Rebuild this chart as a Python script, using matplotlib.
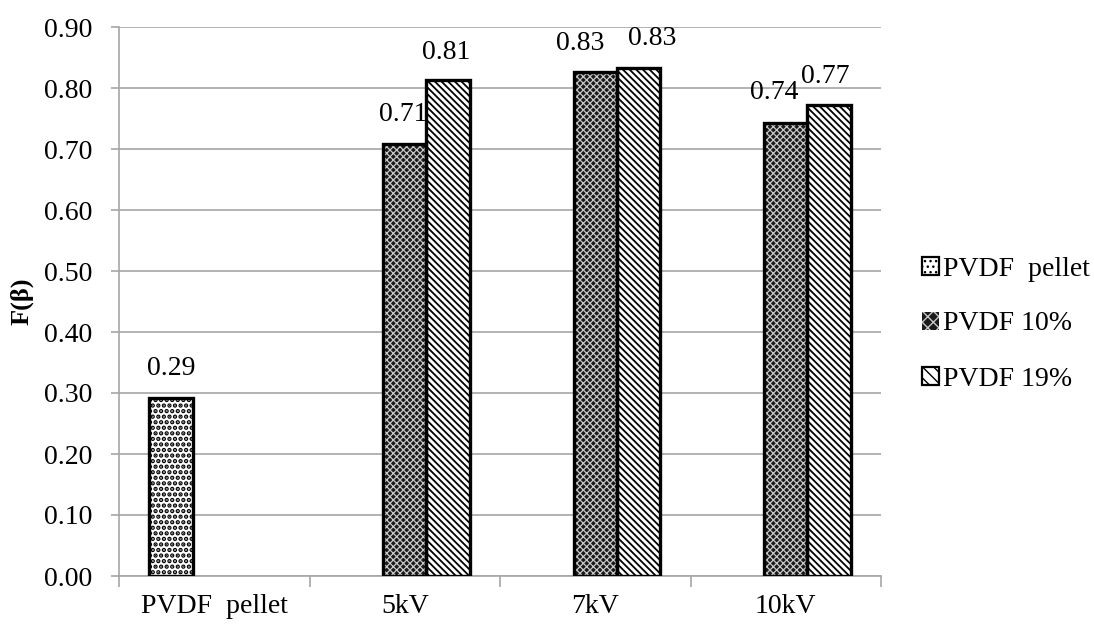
import matplotlib
matplotlib.use("Agg")
import matplotlib.pyplot as plt
from matplotlib.patches import Patch
import numpy as np

plt.rcParams['font.family'] = ['Liberation Serif', 'DejaVu Serif']
plt.rcParams['hatch.linewidth'] = 1.0

categories = ["PVDF  pellet", "5kV", "7kV", "10kV"]
series_names = ["PVDF  pellet", "PVDF 10%", "PVDF 19%"]
pellet = [0.292, None, None, None]
pvdf10 = [None, 0.709, 0.826, 0.743]
pvdf19 = [None, 0.813, 0.833, 0.772]
yticks = [0.0, 0.1, 0.2, 0.3, 0.4, 0.5, 0.6, 0.7, 0.8, 0.9]

FS = 20
fig = plt.figure(figsize=(10.94, 6.29), dpi=100)
ax = fig.add_axes([119/1094, 53/629, (881-119)/1094, (576-27)/629])

w = 0.228
x = np.arange(len(categories))
offsets = [-w, 0.0, w]
styles = [
    dict(face='white', hatch='...', hcol='black', hlw=2.2),
    dict(face='#1a1a1a', hatch='xxxxx', hcol='#c8c8c8', hlw=0.9),
    dict(face='white', hatch='\\\\\\\\\\', hcol='black', hlw=1.3),
]
all_series = [pellet, pvdf10, pvdf19]
# label center offsets in pixels (dx, dy) relative to bar top-center
label_off = {
    (0, 0): (0, 32),
    (1, 1): (-2, 32), (2, 1): (-2, 31),
    (1, 2): (-15, 32), (2, 2): (14, 32),
    (1, 3): (-12, 33), (2, 3): (-4, 32),
}

for si, (vals, st) in enumerate(zip(all_series, styles)):
    for ci, v in enumerate(vals):
        if v is None:
            continue
        xc = x[ci] + offsets[si]
        with plt.rc_context({'hatch.linewidth': st['hlw']}):
            ax.bar(xc, v, width=w, facecolor=st['face'], edgecolor=st['hcol'],
                   hatch=st['hatch'], linewidth=0, zorder=3)
        ax.bar(xc, v, width=w, facecolor='none', edgecolor='black',
               linewidth=2.4, zorder=4)
        dx, dy = label_off[(si, ci)]
        ax.annotate(f"{v:.2f}", (xc, v), xytext=(dx * 0.72, dy * 0.72),
                    textcoords='offset points', ha='center', va='center_baseline',
                    fontsize=FS, zorder=5)

ax.set_xlim(-0.5, len(categories) - 0.5)
ax.set_ylim(0, 0.9)
ax.set_yticks(yticks)
ax.set_yticklabels([f"{t:.2f}" for t in yticks], fontsize=FS)
ax.yaxis.grid(True, color='#a6a6a6', linewidth=1.2, zorder=0)
ax.set_axisbelow(True)

ax.set_xticks(np.arange(len(categories) + 1) - 0.5)
ax.set_xticklabels([])
ax.set_xticks(x, minor=True)
ax.set_xticklabels(categories, minor=True, fontsize=FS)
ax.tick_params(axis='x', which='major', length=8, color='#a6a6a6', width=1.2)
ax.tick_params(axis='x', which='minor', length=0, pad=13)
ax.tick_params(axis='y', length=6, color='#a6a6a6', width=1.2, pad=13)

for s in ['top', 'right']:
    ax.spines[s].set_visible(False)
for s in ['left', 'bottom']:
    ax.spines[s].set_color('#a6a6a6')
    ax.spines[s].set_linewidth(1.2)

ax.set_ylabel("F(β)", fontsize=19, fontweight='bold', labelpad=8)

handles = []
for st in styles:
    with plt.rc_context({'hatch.linewidth': st['hlw'] * 0.7}):
        if st['hcol'] == 'black':
            handles.append(Patch(facecolor=st['face'], edgecolor='black',
                                 hatch=st['hatch'][:3], linewidth=1.6))
        else:
            handles.append(Patch(facecolor=st['face'], edgecolor=st['hcol'],
                                 hatch=st['hatch'][:3], linewidth=0))
leg = fig.legend(handles, series_names, loc='center left',
                 bbox_to_anchor=(922/1094, 1 - 324/629),
                 frameon=False, fontsize=FS, handlelength=0.6, handleheight=0.6,
                 handletextpad=0.15, labelspacing=1.08, borderpad=0, borderaxespad=0)

fig.savefig("out.png", dpi=100)
